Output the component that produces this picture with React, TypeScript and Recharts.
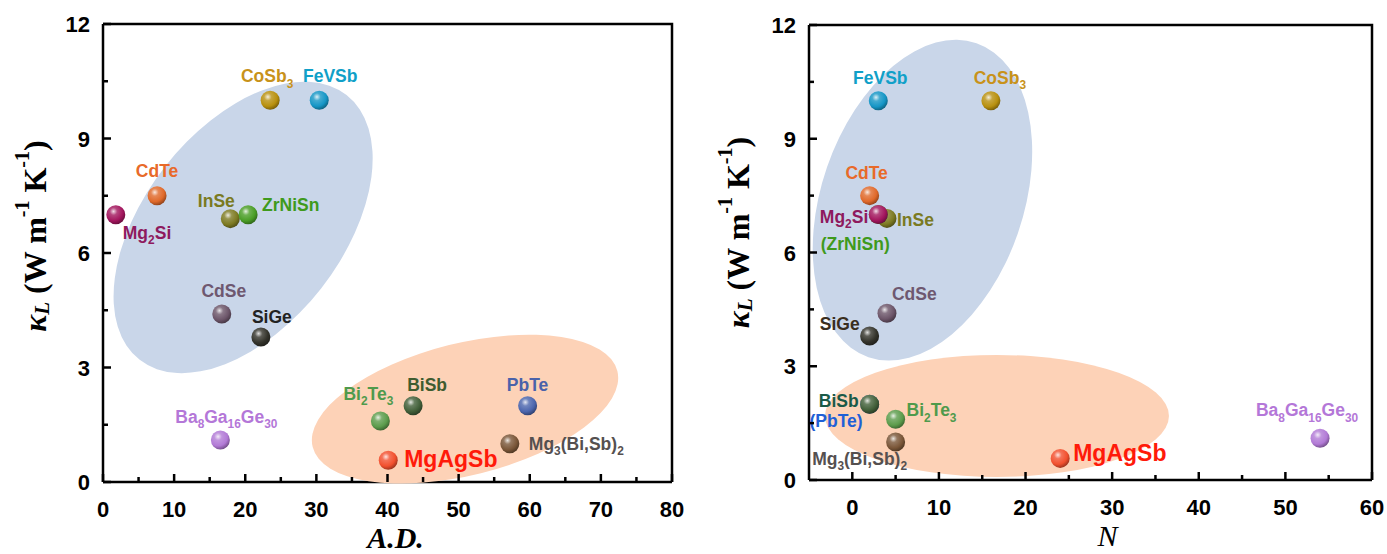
import React from 'react';
import { ScatterChart, Scatter, XAxis, YAxis } from 'recharts';

// materials, in drawing order (hidden/overlapped ones first)
const materials = ['Ba8Ga16Ge30', 'CoSb3', 'FeVSb', 'CdTe', 'InSe', 'ZrNiSn', 'Mg2Si', 'CdSe', 'SiGe', 'PbTe', 'BiSb', 'Bi2Te3', 'Mg3(Bi,Sb)2', 'MgAgSb'];
const formulas = ['Ba_8Ga_16Ge_30', 'CoSb_3', 'FeVSb', 'CdTe', 'InSe', 'ZrNiSn', 'Mg_2Si', 'CdSe', 'SiGe', 'PbTe', 'BiSb', 'Bi_2Te_3', 'Mg_3(Bi,Sb)_2', 'MgAgSb'];
const kappaL = [1.1, 10, 10, 7.5, 6.9, 7.0, 7.0, 4.4, 3.8, 2.0, 2.0, 1.6, 1.0, 0.57];
const atomicDisorder = [16.5, 23.5, 30.4, 7.6, 17.9, 20.4, 1.8, 16.7, 22.2, 59.7, 43.6, 39.0, 57.2, 40.1];
const atomsPerCell = [54, 16, 3, 2, 4, 3, 3, 4, 2, 2, 2, 5, 5, 24];

const adTicks = [0, 5, 10, 15, 20, 25, 30, 35, 40, 45, 50, 55, 60, 65, 70, 75, 80];
const nTicks = [0, 5, 10, 15, 20, 25, 30, 35, 40, 45, 50, 55, 60];
const kappaTicks = [0, 1.5, 3, 4.5, 6, 7.5, 9, 10.5, 12];
const kappaMax = 12;

const SANS = "'Liberation Sans', Arial, Helvetica, sans-serif";
const SERIF = "'Liberation Serif', 'Times New Roman', serif";

const sphereColors: Record<string, string> = {
  'Ba8Ga16Ge30': '#b27ad6', CoSb3: '#b8900e', FeVSb: '#1596c6', CdTe: '#e0692a', InSe: '#7d7a22',
  ZrNiSn: '#4a9e26', Mg2Si: '#a3165e', CdSe: '#6c5569', SiGe: '#33332b', PbTe: '#4c66ae',
  BiSb: '#42603a', Bi2Te3: '#5c9c4c', 'Mg3(Bi,Sb)2': '#7a5638', MgAgSb: '#f2502e',
};
const labelColors: Record<string, string> = {
  'Ba8Ga16Ge30': '#b477d8', CoSb3: '#c8921a', FeVSb: '#10a0c8', CdTe: '#e86a2a', InSe: '#7a7a22',
  ZrNiSn: '#3f9a1c', Mg2Si: '#8e1a5e', CdSe: '#6e5870', SiGe: '#222222', PbTe: '#4a62aa',
  BiSb: '#3f5c30', Bi2Te3: '#4f9a4c', 'Mg3(Bi,Sb)2': '#555050', MgAgSb: '#ff1a0a',
};

type Place = { dx: number; dy: number; anchor: 'start' | 'middle' | 'end'; size?: number; text?: string; color?: string };

const leftLabels: Record<string, Place> = {
  'Ba8Ga16Ge30': { dx: 6, dy: -17, anchor: 'middle' },
  CoSb3: { dx: -3, dy: -18, anchor: 'middle' },
  FeVSb: { dx: 11, dy: -18, anchor: 'middle' },
  CdTe: { dx: 0, dy: -19, anchor: 'middle' },
  InSe: { dx: -14, dy: -12, anchor: 'middle' },
  ZrNiSn: { dx: 14, dy: -4, anchor: 'start' },
  Mg2Si: { dx: 7, dy: 24, anchor: 'start' },
  CdSe: { dx: 2, dy: -17, anchor: 'middle' },
  SiGe: { dx: 11, dy: -14, anchor: 'middle' },
  PbTe: { dx: 0, dy: -15, anchor: 'middle' },
  BiSb: { dx: 14, dy: -15, anchor: 'middle' },
  Bi2Te3: { dx: -12, dy: -21, anchor: 'middle' },
  'Mg3(Bi,Sb)2': { dx: 19, dy: 6, anchor: 'start' },
  MgAgSb: { dx: 16, dy: 7, anchor: 'start', size: 23 },
};

const rightLabels: Record<string, Place> = {
  'Ba8Ga16Ge30': { dx: -13, dy: -22, anchor: 'middle' },
  CoSb3: { dx: 9, dy: -17, anchor: 'middle' },
  FeVSb: { dx: 2, dy: -17, anchor: 'middle' },
  CdTe: { dx: -3, dy: -17, anchor: 'middle' },
  InSe: { dx: 10, dy: 8, anchor: 'start' },
  ZrNiSn: { dx: -23, dy: 35, anchor: 'middle', text: '(ZrNiSn)' },
  Mg2Si: { dx: -10, dy: 8, anchor: 'end' },
  CdSe: { dx: 5, dy: -13, anchor: 'start' },
  SiGe: { dx: -10, dy: -6, anchor: 'end', color: '#3a2e20' },
  PbTe: { dx: -7, dy: 23, anchor: 'end', text: '(PbTe)', color: '#1f60d6' },
  BiSb: { dx: -11, dy: 3, anchor: 'end', color: '#1b5a48' },
  Bi2Te3: { dx: 11, dy: -3, anchor: 'start' },
  'Mg3(Bi,Sb)2': { dx: -36, dy: 23, anchor: 'middle' },
  MgAgSb: { dx: 13, dy: 3, anchor: 'start', size: 23 },
};

// shaded groups: centre in data units, semi-axes in px, tilt in degrees
type Zone = { x: number; y: number; rx: number; ry: number; angle: number; fill: string };
const leftZones: Zone[] = [
  { x: 19.7, y: 6.67, rx: 168, ry: 99, angle: -52, fill: '#c9d6e9' },
  { x: 50.9, y: 1.91, rx: 157, ry: 66, angle: -14, fill: '#fdd2b7' },
];
const rightZones: Zone[] = [
  { x: 8.1, y: 7.38, rx: 166, ry: 101, angle: -71, fill: '#c9d6e9' },
  { x: 16.7, y: 1.69, rx: 172, ry: 61, angle: 0, fill: '#fdd2b7' },
];

const shade = (hex: string, f: number) => {
  const n = parseInt(hex.slice(1), 16);
  const m = (c: number) => Math.round(f < 0 ? c * (1 + f) : c + (255 - c) * f);
  return `rgb(${m((n >> 16) & 255)},${m((n >> 8) & 255)},${m(n & 255)})`;
};

const formulaSpans = (s: string, size: number) => {
  const parts = s.split(/_(\d+)/);
  const out: React.ReactNode[] = [];
  let low = false;
  const shift = size * 0.3;
  parts.forEach((p, i) => {
    if (!p) return;
    if (i % 2 === 1) {
      out.push(<tspan key={i} dy={low ? 0 : shift} fontSize={size * 0.68}>{p}</tspan>);
      low = true;
    } else {
      out.push(<tspan key={i} dy={low ? -shift : 0}>{p}</tspan>);
      low = false;
    }
  });
  return out;
};

const Sphere = (prefix: string) => (props: any) => {
  const { cx, cy, payload } = props;
  if (cx == null || cy == null) return null;
  const c = sphereColors[payload.name];
  const id = `${prefix}-${payload.name.replace(/[^a-z0-9]/gi, '')}`;
  return (
    <g>
      <defs>
        <radialGradient id={id} cx="38%" cy="32%" r="70%">
          <stop offset="0%" stopColor={shade(c, 0.85)} />
          <stop offset="28%" stopColor={shade(c, 0.2)} />
          <stop offset="70%" stopColor={c} />
          <stop offset="100%" stopColor={shade(c, -0.35)} />
        </radialGradient>
      </defs>
      <circle cx={cx} cy={cy} r={9.5} fill={`url(#${id})`} />
    </g>
  );
};

const NameTag = (layout: Record<string, Place>) => (props: any) => {
  const { cx, cy, payload } = props;
  if (cx == null || cy == null) return null;
  const l = layout[payload.name];
  const size = l.size ?? 17.5;
  return (
    <text x={cx + l.dx} y={cy + l.dy} textAnchor={l.anchor} fontFamily={SANS} fontWeight="bold"
      fontSize={size} fill={l.color ?? labelColors[payload.name]}>
      {formulaSpans(l.text ?? payload.formula, size)}
    </text>
  );
};

const ZoneShape = (props: any) => {
  const { cx, cy, payload } = props;
  if (cx == null || cy == null) return null;
  return (
    <ellipse cx={cx} cy={cy} rx={payload.rx} ry={payload.ry} fill={payload.fill}
      transform={`rotate(${payload.angle} ${cx} ${cy})`} />
  );
};

const NoDot = () => <g />;

const XTick = (props: any) => {
  const { x, y, payload } = props;
  const v = payload.value;
  const major = v % 10 === 0;
  return (
    <g>
      <line x1={x} x2={x} y1={y} y2={y - (major ? 8 : 5)} stroke="#000" strokeWidth={2.5} />
      {major && (
        <text x={x} y={y + 35} textAnchor="middle" fontFamily={SANS} fontWeight="bold" fontSize={22} fill="#000">{v}</text>
      )}
    </g>
  );
};

const YTick = (props: any) => {
  const { x, y, payload } = props;
  const v = payload.value;
  const major = v % 3 === 0;
  return (
    <g>
      <line x1={x} x2={x + (major ? 8 : 5)} y1={y} y2={y} stroke="#000" strokeWidth={2.5} />
      {major && (
        <text x={x - 13} y={y + 8} textAnchor="end" fontFamily={SANS} fontWeight="bold" fontSize={22} fill="#000">{v}</text>
      )}
    </g>
  );
};

const kappaTitle = (shiftX: number, shiftY: number) => (p: any) => {
  const vb = p.viewBox;
  const cx = vb.x + shiftX;
  const cy = vb.y + vb.height / 2 + shiftY;
  return (
    <text x={cx} y={cy} transform={`rotate(-90 ${cx} ${cy})`} textAnchor="middle" dominantBaseline="central"
      fontFamily={SERIF} fontWeight="bold" fontSize={32} fill="#000">
      <tspan fontStyle="italic">κ</tspan>
      <tspan fontStyle="italic" fontSize={21} dy={7}>L</tspan>
      <tspan dy={-7}> (W m</tspan>
      <tspan fontSize={20} dy={-13}>-1</tspan>
      <tspan dy={13}> K</tspan>
      <tspan fontSize={20} dy={-13}>-1</tspan>
      <tspan dy={13}>)</tspan>
    </text>
  );
};

const xTitle = (text: string, shiftX: number, baseline: number, bold: boolean) => (p: any) => {
  const vb = p.viewBox;
  return (
    <text x={vb.x + vb.width / 2 + shiftX} y={vb.y + baseline} textAnchor="middle" fontFamily={SERIF}
      fontStyle="italic" fontWeight={bold ? 'bold' : 'normal'} fontSize={30} fill="#000">{text}</text>
  );
};

type PanelProps = {
  id: string;
  left: number;
  width: number;
  margin: { top: number; right: number; bottom: number; left: number };
  xValues: number[];
  xDomain: [number, number];
  xTicks: number[];
  title: string;
  titleShift: number;
  titleBold: boolean;
  yTitleShift: [number, number];
  zones: Zone[];
  layout: Record<string, Place>;
};

const frame = { stroke: '#000', strokeWidth: 2.5 };

const Panel = (p: PanelProps) => {
  const points = materials.map((name, i) => ({ name, formula: formulas[i], x: p.xValues[i], y: kappaL[i] }));
  // top and right edges of the plot box, traced through the axes' own scales
  const box = [
    { x: p.xDomain[0], y: kappaMax },
    { x: p.xDomain[1], y: kappaMax },
    { x: p.xDomain[1], y: 0 },
  ];
  return (
    <div style={{ position: 'absolute', left: p.left, top: 0 }}>
      <ScatterChart width={p.width} height={554} margin={p.margin}>
        <XAxis type="number" dataKey="x" domain={p.xDomain} ticks={p.xTicks} interval={0} height={40}
          tickSize={0} tickMargin={0} tickLine={false} tick={<XTick />} axisLine={frame}
          label={{ content: xTitle(p.title, p.titleShift, 66, p.titleBold) }} />
        <YAxis type="number" dataKey="y" domain={[0, kappaMax]} ticks={kappaTicks} interval={0} width={60}
          tickSize={0} tickMargin={0} tickLine={false} tick={<YTick />} axisLine={frame}
          label={{ content: kappaTitle(p.yTitleShift[0], p.yTitleShift[1]) }} />
        <Scatter data={p.zones} shape={ZoneShape} isAnimationActive={false} legendType="none" />
        <Scatter data={box} shape={NoDot} line={{ stroke: '#000', strokeWidth: 2.5 }} lineType="joint"
          isAnimationActive={false} legendType="none" />
        <Scatter data={points} shape={Sphere(p.id)} isAnimationActive={false} legendType="none" />
        <Scatter data={points} shape={NameTag(p.layout)} isAnimationActive={false} legendType="none" />
      </ScatterChart>
    </div>
  );
};

export default function App() {
  return (
    <div style={{ position: 'absolute', left: 0, top: 0, width: 1387, height: 554, background: '#fff' }}>
      <Panel id="ad" left={0} width={690} margin={{ top: 24, right: 18, bottom: 32, left: 43 }}
        xValues={atomicDisorder} xDomain={[0, 80]} xTicks={adTicks} title="A.D." titleShift={8} titleBold
        yTitleShift={[-8, -17]} zones={leftZones} layout={leftLabels} />
      <Panel id="n" left={700} width={687} margin={{ top: 25, right: 15, bottom: 34, left: 49 }}
        xValues={atomsPerCell} xDomain={[-5, 60]} xTicks={nTicks} title="N" titleShift={17} titleBold={false}
        yTitleShift={[-11, -20]} zones={rightZones} layout={rightLabels} />
    </div>
  );
}
